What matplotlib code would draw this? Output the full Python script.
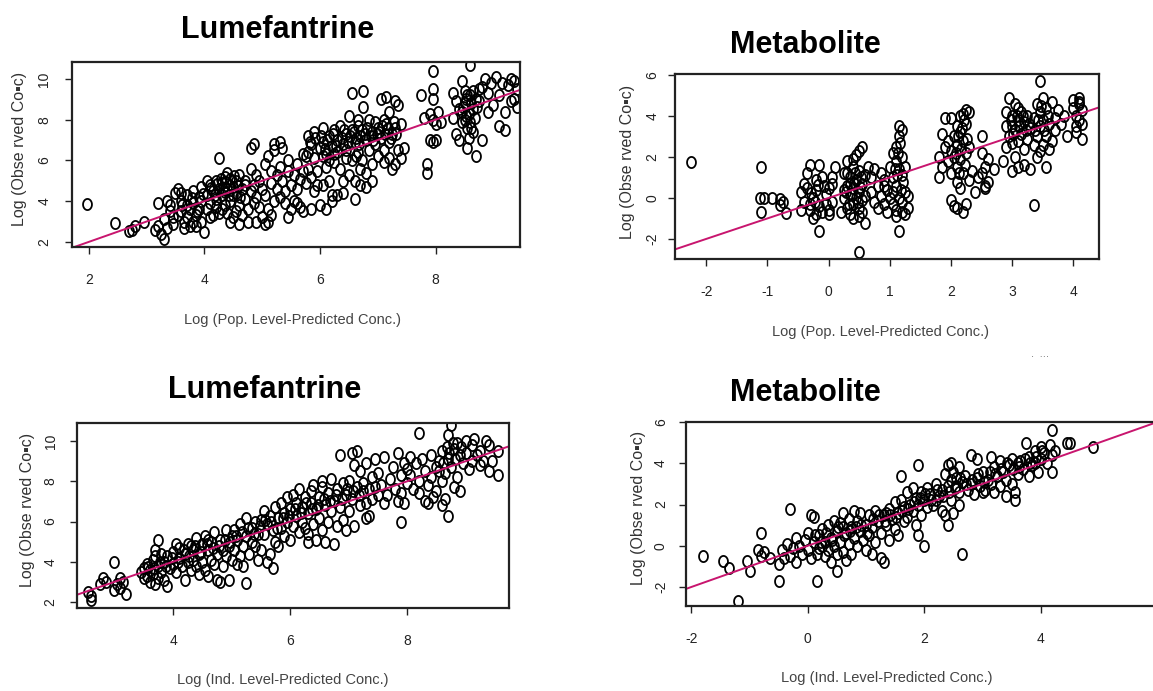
import numpy as np
import matplotlib
matplotlib.use("Agg")
import matplotlib.pyplot as plt
from matplotlib.path import Path

plt.rcParams['font.family'] = ['Liberation Sans', 'DejaVu Sans']

lume_pop = [
    (1.97, 3.85), (2.45, 2.95), (2.7, 2.55), (2.75, 2.6), (2.8, 2.8), (2.95, 3.0),
    (3.15, 2.6), (3.2, 2.8), (3.2, 3.9), (3.25, 2.4),
    (3.3, 2.15), (3.35, 2.7), (3.3, 3.1), (3.35, 4.0), (3.4, 3.5), (3.45, 3.2), (3.5, 4.4), (3.45, 2.9), (3.4, 3.8),
    (3.55, 4.6), (3.6, 4.0), (3.6, 3.5), (3.65, 3.0), (3.65, 2.7), (3.7, 3.8), (3.7, 4.3), (3.55, 3.3), (3.75, 2.8),
    (3.75, 3.6), (3.6, 4.4), (3.7, 3.2),
    (3.8, 4.5), (3.8, 3.9), (3.85, 3.3), (3.85, 2.8), (3.9, 4.2), (3.9, 3.6), (3.95, 4.7), (3.95, 3.0), (4.0, 2.5),
    (3.95, 4.0), (3.8, 3.0),
    (4.05, 4.3), (4.05, 3.6), (4.1, 4.8), (4.1, 3.9), (4.15, 4.5), (4.15, 3.3), (4.2, 5.0), (4.2, 4.1), (4.25, 6.1),
    (4.2, 3.7), (4.25, 4.6), (4.05, 5.0), (4.1, 3.2), (4.25, 3.4),
    (4.3, 4.9), (4.3, 4.3), (4.35, 5.2), (4.35, 3.8), (4.4, 4.6), (4.4, 3.4), (4.45, 5.1), (4.45, 4.0), (4.5, 4.7),
    (4.5, 3.2), (4.3, 3.6), (4.4, 5.4), (4.5, 4.3), (4.45, 3.0),
    (4.55, 5.0), (4.55, 4.4), (4.6, 3.8), (4.6, 5.3), (4.65, 4.6), (4.65, 3.3), (4.7, 5.0), (4.7, 4.1), (4.75, 3.6),
    (4.75, 3.0), (4.6, 2.9), (4.7, 4.8), (4.55, 3.5),
    (4.8, 6.6), (4.85, 6.8), (4.8, 5.6), (4.85, 4.8), (4.9, 5.3), (4.9, 4.2), (4.95, 3.7), (4.95, 5.0), (5.0, 3.2),
    (4.8, 4.5), (4.9, 3.0), (5.0, 4.6), (4.85, 3.9),
    (5.05, 5.8), (5.05, 4.3), (5.1, 6.2), (5.1, 3.6), (5.15, 5.5), (5.15, 4.9), (5.2, 6.8), (5.2, 6.5), (5.25, 5.3),
    (5.1, 3.0), (5.2, 4.0), (5.05, 2.9), (5.25, 4.6), (5.15, 3.3),
    (5.3, 6.9), (5.35, 6.6), (5.3, 5.7), (5.35, 5.0), (5.4, 4.5), (5.4, 3.9), (5.45, 5.5), (5.45, 3.2), (5.5, 4.8),
    (5.5, 3.6), (5.3, 4.2), (5.45, 6.0),
    (5.55, 5.3), (5.55, 4.0), (5.6, 5.8), (5.6, 4.6), (5.65, 5.1), (5.65, 3.7), (5.7, 5.5), (5.7, 3.5), (5.75, 4.9),
    (5.6, 3.9), (5.75, 6.2), (5.7, 6.3),
    (5.8, 7.2), (5.85, 6.8), (5.8, 5.6), (5.85, 5.2), (5.9, 7.4), (5.9, 6.1), (5.95, 5.5), (5.95, 4.8), (6.0, 6.6),
    (6.0, 3.8), (5.85, 3.6), (5.9, 4.5), (5.8, 6.4),
    (6.05, 7.6), (6.05, 6.9), (6.1, 6.3), (6.1, 5.7), (6.15, 7.2), (6.15, 5.0), (6.2, 6.7), (6.2, 4.3), (6.25, 7.5),
    (6.25, 5.9), (6.2, 4.0), (6.1, 3.6), (6.05, 4.8), (6.15, 6.0),
    (6.3, 7.0), (6.3, 6.4), (6.35, 7.7), (6.35, 5.6), (6.4, 6.8), (6.4, 4.4), (6.45, 7.3), (6.45, 6.1), (6.5, 8.2),
    (6.3, 4.3), (6.5, 5.3), (6.4, 5.0),
    (6.55, 9.3), (6.55, 7.5), (6.6, 6.9), (6.6, 5.0), (6.65, 8.0), (6.65, 6.4), (6.7, 7.2), (6.7, 4.8), (6.75, 9.4),
    (6.75, 8.6), (6.6, 4.1), (6.7, 5.6), (6.55, 6.0), (6.65, 7.7),
    (6.8, 7.0), (6.8, 5.4), (6.85, 8.0), (6.85, 6.5), (6.9, 7.4), (6.9, 5.0), (6.95, 6.8), (6.95, 7.9), (7.0, 6.2),
    (7.0, 7.6), (6.8, 4.7), (6.9, 5.8),
    (7.05, 9.0), (7.05, 7.1), (7.1, 6.5), (7.1, 5.9), (7.15, 9.1), (7.15, 7.8), (7.2, 8.4), (7.2, 6.1), (7.25, 7.3),
    (7.25, 5.6), (7.1, 8.0), (7.2, 6.9),
    (7.3, 8.9), (7.3, 7.6), (7.35, 8.7), (7.35, 6.5), (7.4, 6.1), (7.4, 7.8), (7.3, 5.8), (7.45, 6.6),
    (7.75, 9.2), (7.8, 8.1), (7.95, 10.4), (7.95, 9.5), (7.95, 9.0), (7.9, 8.3), (7.95, 8.0), (8.0, 7.8), (7.9, 7.0),
    (7.95, 6.9), (8.0, 7.0), (7.85, 5.8), (7.85, 5.4),
    (8.05, 8.4), (8.1, 7.9), (8.3, 9.3), (8.3, 8.1), (8.35, 7.3), (8.35, 8.9), (8.4, 7.0), (8.4, 8.5),
    (8.45, 9.9), (8.5, 9.4), (8.5, 8.8), (8.5, 8.0), (8.55, 7.6), (8.55, 6.6), (8.6, 9.2), (8.6, 10.7), (8.65, 8.5),
    (8.65, 7.4), (8.7, 9.0), (8.45, 7.9), (8.6, 7.9), (8.7, 6.2),
    (8.75, 8.9), (8.8, 9.6), (8.8, 7.0), (8.85, 10.0), (8.9, 9.3), (8.9, 8.4), (8.95, 9.8), (9.0, 8.7), (8.75, 9.5),
    (9.05, 10.1), (9.1, 9.2), (9.1, 7.7), (9.15, 9.8), (9.2, 7.5), (9.2, 8.4), (9.25, 9.7), (9.3, 8.9), (9.35, 9.9),
    (9.35, 9.0), (9.4, 8.6), (9.4, 9.5), (9.3, 10.0),
    # denser cores
    (4.12, 4.65), (4.18, 4.3), (4.28, 5.1), (4.32, 4.6), (4.38, 4.95), (4.42, 4.3), (4.48, 5.0), (4.52, 5.25),
    (4.22, 4.85), (4.35, 4.45), (4.58, 4.75), (4.62, 4.2), (3.62, 3.8), (3.78, 4.15), (3.88, 3.5), (3.98, 4.35),
    (5.82, 6.9), (5.92, 7.1), (6.02, 7.2), (6.08, 6.55), (6.12, 7.0), (6.22, 7.3), (6.28, 6.7), (6.38, 7.1),
    (6.42, 7.5), (6.48, 6.9), (6.52, 7.2), (6.58, 7.4), (6.62, 7.1), (6.68, 6.8), (6.72, 7.5), (6.78, 7.3),
    (6.82, 7.6), (6.88, 7.2), (6.92, 7.0), (6.98, 7.3), (7.02, 7.4), (7.08, 7.7), (7.12, 7.3), (7.18, 7.6),
    (7.22, 7.1), (7.28, 7.9), (7.32, 7.3), (6.62, 6.2), (6.72, 6.0), (6.45, 6.5), (6.25, 6.3), (6.05, 6.2),
    (8.48, 8.6), (8.52, 9.0), (8.58, 8.3), (8.62, 8.8), (8.68, 8.1), (8.72, 8.6), (8.55, 9.2), (8.65, 9.4),
    (8.52, 8.2), (8.62, 7.6), (8.45, 8.4), (8.58, 7.1),
]

meta_pop = [
    (-2.25, 1.75), (-1.1, 1.5), (-1.12, 0.0), (-1.05, 0.0), (-0.92, 0.0), (-0.8, -0.05), (-0.75, -0.2), (-1.1, -0.7),
    (-0.7, -0.75), (-0.8, -0.35),
    (-0.45, 0.3), (-0.4, -0.2), (-0.4, 0.7), (-0.35, 1.2), (-0.3, 1.6), (-0.3, -0.6), (-0.25, 0.0), (-0.25, -1.0),
    (-0.2, 0.9), (-0.2, 0.4), (-0.15, 1.6), (-0.15, -0.4), (-0.1, 1.0), (-0.1, -0.7), (-0.15, -1.6), (-0.05, 0.2),
    (-0.05, -0.3), (0.0, 0.5), (0.0, -0.6), (0.05, 1.0), (0.05, -0.2), (0.1, 1.5), (0.0, -0.8), (-0.35, 0.5),
    (-0.3, -0.3), (0.05, 0.7), (-0.2, -0.8), (-0.45, -0.6), (0.2, -0.7),
    (0.25, 0.0), (0.25, 1.2), (0.3, -0.5), (0.3, 0.6), (0.3, 1.8), (0.35, -0.8), (0.35, 0.2), (0.35, 1.0), (0.4, -0.3),
    (0.4, 0.5), (0.4, 1.5), (0.4, -1.0), (0.45, 0.0), (0.45, 0.9), (0.45, 2.1), (0.5, -0.5), (0.5, 0.3), (0.5, 1.3),
    (0.5, 2.3), (0.55, -0.1), (0.55, 0.7), (0.55, 2.5), (0.55, -0.7), (0.6, -1.2), (0.6, 0.1), (0.6, 1.1),
    (0.5, -2.65), (0.3, 1.2), (0.35, 0.7), (0.5, -0.9), (0.4, 1.9), (0.25, 0.4),
    (0.65, 1.5), (0.7, 1.0), (0.7, 0.3), (0.75, 1.4), (0.8, 0.6), (0.8, -0.5), (0.85, 1.2), (0.85, 0.1), (0.9, 0.9),
    (0.9, -0.3), (0.95, 0.4), (0.95, -0.7), (1.0, 0.0), (0.75, -0.2), (0.9, 0.6),
    (1.05, 1.0), (1.05, 0.3), (1.05, -0.3), (1.1, 1.8), (1.1, 2.5), (1.1, 0.6), (1.1, -0.6), (1.15, 3.0), (1.15, 3.5),
    (1.15, 1.4), (1.15, 0.0), (1.15, -1.6), (1.2, 3.3), (1.2, 2.0), (1.2, 1.1), (1.2, -0.2), (1.25, 1.5), (1.25, 0.3),
    (1.25, -0.8), (1.3, 0.1), (1.3, -0.5), (1.05, 2.2), (1.1, -0.9), (1.2, -0.7), (1.0, 1.5),
    (1.8, 1.0), (1.8, 2.0), (1.85, 1.5), (1.85, 3.1), (1.9, 2.5), (1.9, 3.9), (1.95, 1.8), (2.0, 2.3), (2.0, 1.2),
    (2.0, -0.1), (2.05, 3.0), (2.05, 2.0), (2.05, -0.4), (2.1, 3.5), (2.1, 2.6), (2.1, 1.5), (2.1, 0.8), (2.15, 4.0),
    (2.15, 3.2), (2.15, 1.9), (2.15, 0.5), (2.2, 4.1), (2.2, 2.8), (2.2, 1.2), (2.2, -0.7), (2.25, 4.3), (2.25, 3.6),
    (2.25, 2.2), (2.25, -0.3), (2.3, 4.2), (2.3, 0.9), (2.3, 2.5), (2.35, 1.3), (2.1, -0.5), (2.0, 3.9), (1.95, 2.8),
    (2.4, 0.3), (2.45, 1.0), (2.5, 3.0), (2.5, 2.2), (2.55, 1.5), (2.55, 0.6), (2.6, 1.9), (2.6, 0.8), (2.5, 1.2),
    (2.7, 1.4), (2.55, 0.5),
    (2.85, 1.8), (2.9, 4.2), (2.9, 3.5), (2.9, 2.5), (2.95, 4.9), (2.95, 3.0), (3.0, 4.0), (3.0, 2.7), (3.0, 1.3),
    (3.05, 4.6), (3.05, 3.3), (3.05, 2.0), (3.1, 3.8), (3.1, 2.8), (3.1, 1.5), (3.15, 4.2), (3.15, 3.1), (3.2, 3.7),
    (3.2, 2.4), (3.2, 1.6), (3.0, 3.5), (3.1, 4.4),
    (3.25, 2.9), (3.25, 4.0), (3.3, 3.4), (3.3, 1.4), (3.35, 2.6), (3.35, -0.35), (3.4, 4.6), (3.4, 3.0), (3.4, 2.0),
    (3.45, 5.7), (3.45, 4.2), (3.45, 3.5), (3.5, 4.9), (3.5, 3.8), (3.5, 2.6), (3.55, 4.4), (3.55, 3.0), (3.55, 1.5),
    (3.6, 3.6), (3.6, 2.4), (3.45, 2.3), (3.35, 3.9),
    (3.65, 4.7), (3.7, 3.9), (3.7, 3.3), (3.75, 4.3), (3.8, 3.6), (3.85, 4.0), (3.9, 3.0), (3.65, 2.8),
    (4.0, 4.8), (4.0, 4.4), (4.05, 4.0), (4.05, 3.5), (4.1, 4.9), (4.1, 4.6), (4.1, 3.8), (4.15, 4.3), (4.15, 3.6),
    (4.15, 2.9), (4.05, 3.2), (4.1, 4.7),
    # denser cores
    (0.38, 0.15), (0.42, 0.75), (0.48, -0.2), (0.52, 0.55), (0.33, -0.3), (0.28, 0.3), (0.43, 1.2), (0.53, 1.0),
    (-0.28, 0.25), (-0.18, 0.65), (-0.22, -0.2), (-0.08, 0.6), (1.12, 1.1), (1.18, 0.4), (1.13, 2.2), (1.17, 2.7),
    (1.08, 1.4), (1.22, 0.8), (2.12, 3.0), (2.18, 3.4), (2.22, 3.8), (2.17, 2.4), (2.08, 2.2), (2.27, 2.9),
    (2.13, 1.2), (2.23, 1.6), (3.02, 3.1), (3.12, 3.5), (3.08, 4.0), (3.18, 4.0), (3.28, 3.6), (3.38, 3.3),
    (3.42, 3.8), (3.48, 4.5), (3.52, 3.3), (3.58, 4.0), (2.98, 3.8), (3.22, 3.3),
]

lume_ind = [
    (2.55, 2.5), (2.6, 2.3), (2.6, 2.1), (2.75, 2.9), (2.8, 3.2), (2.85, 3.0), (3.0, 2.6), (3.0, 4.0), (3.05, 2.9),
    (3.1, 3.2), (3.1, 2.7), (3.2, 2.4), (3.15, 3.0),
    (3.45, 3.5), (3.5, 3.2), (3.5, 3.7), (3.55, 3.9), (3.55, 3.3), (3.6, 3.0), (3.6, 3.6), (3.65, 4.1), (3.65, 3.4),
    (3.7, 4.6), (3.7, 2.9), (3.75, 5.1), (3.75, 3.8), (3.75, 3.2), (3.8, 4.4), (3.8, 3.5), (3.85, 4.0), (3.85, 3.1),
    (3.9, 4.3), (3.9, 2.8), (3.95, 3.7), (3.7, 4.3),
    (4.0, 4.5), (4.0, 3.9), (4.05, 3.5), (4.1, 4.2), (4.1, 4.7), (4.15, 3.8), (4.2, 3.1), (4.2, 4.4), (4.25, 4.9),
    (4.25, 4.0), (4.3, 3.6), (4.35, 4.6), (4.35, 4.1), (4.4, 5.2), (4.4, 3.8), (4.45, 4.4), (4.45, 3.4), (4.5, 4.9),
    (4.5, 4.0), (4.05, 4.9), (4.3, 4.8),
    (4.55, 5.3), (4.55, 3.6), (4.6, 4.6), (4.6, 3.3), (4.65, 5.0), (4.65, 4.1), (4.7, 3.9), (4.7, 5.5), (4.75, 3.1),
    (4.75, 4.4), (4.8, 5.1), (4.8, 3.0), (4.85, 3.8), (4.9, 5.6), (4.9, 4.3), (4.95, 4.8), (4.95, 3.1), (5.0, 5.3),
    (5.0, 4.1), (4.85, 4.6), (4.6, 5.1),
    (5.05, 4.6), (5.05, 5.6), (5.1, 3.9), (5.1, 5.1), (5.15, 4.3), (5.15, 5.9), (5.2, 4.8), (5.2, 3.8), (5.25, 6.2),
    (5.25, 2.95), (5.25, 5.3), (5.3, 4.4), (5.35, 5.7), (5.35, 5.0), (5.4, 6.0), (5.4, 4.8), (5.45, 5.4), (5.5, 6.1),
    (5.5, 4.6), (5.45, 4.1),
    (5.55, 6.5), (5.55, 5.4), (5.6, 4.0), (5.6, 5.9), (5.65, 6.3), (5.65, 4.4), (5.7, 3.7), (5.7, 5.6), (5.75, 6.7),
    (5.75, 5.0), (5.8, 6.2), (5.8, 4.8), (5.85, 6.9), (5.85, 5.7), (5.9, 6.4), (5.9, 5.3), (5.95, 7.2), (5.95, 6.0),
    (6.0, 6.6), (6.0, 5.1),
    (6.05, 7.3), (6.05, 5.8), (6.1, 6.3), (6.1, 6.9), (6.15, 7.6), (6.15, 5.5), (6.2, 6.7), (6.2, 6.0), (6.25, 7.2),
    (6.3, 6.4), (6.3, 5.4), (6.35, 7.5), (6.35, 6.9), (6.4, 5.9), (6.4, 7.8), (6.45, 6.6), (6.45, 5.1), (6.5, 7.2),
    (6.5, 6.2), (6.3, 5.0), (6.25, 5.7),
    (6.55, 7.7), (6.55, 5.6), (6.6, 6.8), (6.6, 5.0), (6.65, 7.4), (6.65, 6.0), (6.7, 8.1), (6.7, 6.5), (6.75, 4.9),
    (6.75, 7.0), (6.8, 7.6), (6.8, 5.8), (6.85, 9.3), (6.85, 6.7), (6.9, 7.9), (6.9, 6.1), (6.95, 7.3), (6.95, 5.6),
    (7.0, 8.0), (7.0, 6.5), (6.55, 8.0),
    (7.05, 9.4), (7.05, 7.1), (7.1, 8.8), (7.1, 5.8), (7.15, 9.5), (7.15, 7.7), (7.2, 8.5), (7.2, 6.8), (7.25, 7.5),
    (7.25, 7.9), (7.3, 8.9), (7.3, 6.9), (7.35, 6.3), (7.35, 7.6), (7.4, 8.2), (7.4, 7.1), (7.45, 9.1), (7.45, 7.7),
    (7.5, 8.4), (7.5, 7.3), (7.3, 6.2), (7.55, 7.8), (7.6, 6.9), (7.65, 7.3), (7.7, 8.1),
    (7.6, 9.2), (7.75, 8.7), (7.8, 7.6), (7.85, 9.4), (7.9, 8.3), (7.9, 7.4), (7.9, 6.0), (7.95, 8.9), (8.0, 7.9),
    (7.85, 7.0), (7.95, 6.9), (8.0, 8.6),
    (8.05, 9.2), (8.05, 8.3), (8.1, 7.6), (8.15, 8.9), (8.2, 8.0), (8.2, 7.4), (8.25, 9.1), (8.3, 7.0), (8.3, 8.5),
    (8.35, 7.8), (8.4, 9.3), (8.4, 8.2), (8.45, 7.2), (8.5, 8.7), (8.5, 7.5), (8.2, 10.4), (8.35, 6.9),
    (8.55, 9.0), (8.6, 8.0), (8.6, 9.5), (8.65, 7.1), (8.65, 8.4), (8.7, 10.3), (8.7, 9.1), (8.7, 6.3), (8.75, 8.7),
    (8.75, 10.8), (8.8, 9.6), (8.8, 7.7), (8.85, 9.9), (8.85, 8.2), (8.9, 9.3), (8.9, 7.5), (8.95, 8.9), (9.0, 10.0),
    (9.0, 9.4), (8.6, 6.8),
    (9.05, 8.6), (9.1, 9.8), (9.1, 9.0), (9.15, 10.1), (9.2, 9.3), (9.25, 8.8), (9.3, 9.0), (9.35, 10.0), (9.4, 9.8),
    (9.4, 8.5), (9.45, 9.0), (9.55, 8.3), (9.55, 9.5), (9.25, 9.5),
    # denser core along the band
    (3.58, 3.75), (3.68, 3.7), (3.78, 4.0), (3.88, 3.8), (3.98, 4.2), (4.08, 4.0), (4.18, 4.6), (4.28, 4.3),
    (4.38, 4.8), (4.48, 4.5), (4.58, 4.9), (4.68, 4.7), (4.78, 4.8), (4.88, 5.1), (4.98, 5.0), (5.08, 5.3),
    (5.18, 5.5), (5.28, 5.7), (5.38, 5.4), (5.48, 5.8), (5.58, 6.1), (5.68, 6.0), (5.78, 5.7), (5.88, 6.2),
    (5.98, 6.3), (6.08, 6.6), (6.18, 6.4), (6.28, 6.9), (6.38, 6.6), (6.48, 6.8), (6.58, 7.1), (6.68, 7.0),
    (6.78, 7.3), (6.88, 7.1), (6.98, 7.6), (7.08, 7.5), (7.18, 7.3), (8.62, 8.9), (8.72, 9.4), (8.82, 9.1),
    (8.92, 9.7), (8.78, 9.9), (8.68, 9.7), (8.55, 8.5),
]

meta_ind = [
    (-1.8, -0.5), (-1.45, -0.75), (-1.35, -1.1), (-1.2, -2.7), (-1.05, -0.75), (-1.0, -1.2), (-0.8, 0.6),
    (-0.85, -0.2), (-0.8, -0.5), (-0.75, -0.3), (-0.65, -0.6), (-0.5, -1.7), (-0.5, -0.9), (-0.45, -0.2),
    (-0.4, -0.6), (-0.35, 0.1), (-0.3, 1.8), (-0.3, -0.5), (-0.25, -0.1), (-0.2, 0.4), (-0.2, -0.8), (-0.15, 0.0),
    (-0.1, -0.4), (-0.05, 0.3), (0.0, -0.2), (0.0, 0.6), (0.05, 1.5), (0.05, -0.6), (0.1, 1.4), (0.1, 0.2),
    (0.15, -0.4), (0.15, -1.7), (0.2, 0.5), (0.2, -0.1), (0.25, 0.8), (0.3, -0.5), (0.3, 0.2), (0.35, 1.0),
    (0.35, -0.2), (0.4, 0.4), (0.4, -0.8), (0.45, 1.2), (0.45, 0.0), (0.5, -1.2), (0.5, 0.7), (0.5, -0.4),
    (0.55, 1.1), (0.55, 0.2), (0.6, 1.6), (0.6, -0.3), (0.65, 0.6), (0.65, -0.7), (0.7, 1.3), (0.7, 0.1),
    (0.75, 0.9), (0.75, -0.4), (0.8, 0.4), (0.85, 1.2), (0.85, 0.0), (0.9, 0.7), (0.9, 1.6), (0.95, 0.3),
    (1.0, 1.0), (1.0, -0.2), (1.05, 1.5), (1.05, 0.5), (1.1, 0.9), (1.1, -0.4), (1.15, 1.7), (1.15, 0.2),
    (1.2, 1.2), (1.25, 0.6), (1.25, -0.6), (1.3, 1.5), (1.3, -0.8), (1.35, 1.0), (1.4, 0.3), (1.4, 1.8),
    (1.45, 1.3), (1.5, 0.8), (1.5, 2.1), (1.55, 0.5), (1.55, 1.6), (1.6, 3.4), (1.6, 2.2), (1.65, 1.2),
    (1.65, 1.9), (1.7, 2.6), (1.7, 1.4), (1.75, 2.0), (1.8, 1.7), (1.8, 2.8), (1.85, 2.3), (1.85, 1.0),
    (1.9, 3.9), (1.9, 2.0), (1.9, 0.5), (1.95, 2.6), (1.95, 1.5), (2.0, 2.2), (2.0, 0.0), (2.05, 2.8),
    (2.05, 1.9), (2.1, 2.5), (2.15, 2.0), (2.2, 3.0), (2.25, 2.4), (2.3, 2.7), (2.3, 1.7), (2.35, 3.5),
    (2.35, 1.5), (2.4, 3.9), (2.4, 2.9), (2.4, 1.0), (2.45, 4.0), (2.45, 3.2), (2.45, 2.2), (2.5, 3.6),
    (2.5, 1.6), (2.55, 2.9), (2.55, 3.3), (2.6, 2.6), (2.65, 3.1), (2.65, -0.4), (2.7, 3.4), (2.75, 2.7),
    (2.8, 4.4), (2.8, 3.0), (2.85, 2.5), (2.9, 4.2), (2.9, 3.3), (2.95, 2.9), (3.0, 3.6), (3.05, 2.7),
    (3.1, 3.2), (3.15, 4.3), (3.15, 3.0), (3.2, 3.8), (3.2, 2.6), (3.25, 3.4), (3.3, 4.1), (3.3, 2.9),
    (3.35, 3.6), (3.4, 3.2), (3.4, 2.4), (3.45, 3.9), (3.5, 3.0), (3.5, 4.2), (3.55, 2.2), (3.55, 2.6),
    (3.6, 3.5), (3.65, 4.1), (3.7, 3.7), (3.75, 5.0), (3.8, 3.4), (3.8, 4.3), (3.85, 3.9), (3.9, 4.6),
    (3.95, 3.6), (4.0, 4.8), (4.0, 4.2), (4.05, 4.5), (4.1, 4.0), (4.15, 4.9), (4.2, 5.6), (4.2, 4.4),
    (4.2, 3.6), (4.25, 4.6), (4.45, 5.0), (4.5, 5.0), (4.9, 4.8), (3.9, 4.0), (3.6, 4.0), (3.0, 2.6),
    (2.6, 2.0), (2.6, 3.8), (2.2, 2.2), (1.35, 1.6), (0.8, 1.7), (0.25, 0.0), (0.6, 0.9),
    # denser core along the band
    (0.12, 0.5), (0.22, 0.2), (0.32, 0.6), (0.42, 0.3), (0.52, 0.9), (0.62, 0.5), (0.72, 0.7), (0.82, 0.9),
    (0.92, 1.0), (1.02, 0.6), (1.12, 1.3), (1.22, 1.5), (1.32, 1.2), (1.42, 1.5), (1.52, 1.4), (1.62, 1.7),
    (1.72, 1.8), (1.82, 2.1), (1.92, 2.3), (2.02, 2.5), (2.12, 2.2), (2.22, 2.7), (2.32, 2.4), (2.42, 2.6),
    (2.52, 2.8), (2.62, 3.3), (2.72, 3.0), (2.82, 3.2), (2.92, 3.5), (3.02, 3.1), (3.12, 3.6), (3.22, 3.5),
    (3.32, 3.7), (3.42, 4.0), (3.52, 3.7), (3.62, 3.8), (3.72, 4.2), (3.82, 4.0), (3.92, 4.3), (4.02, 4.6),
]

titles = ['Lumefantrine', 'Metabolite', 'Lumefantrine', 'Metabolite']
xlabels = ['Log (Pop. Level-Predicted Conc.)', 'Log (Pop. Level-Predicted Conc.)',
           'Log (Ind. Level-Predicted Conc.)', 'Log (Ind. Level-Predicted Conc.)']
ylabel = 'Log (Obse rved Co\u25aac)'
xticks = [[2, 4, 6, 8], [-2, -1, 0, 1, 2, 3, 4], [4, 6, 8], [-2, 0, 2, 4]]
yticks = [[2, 4, 6, 8, 10], [-2, 0, 2, 4, 6], [2, 4, 6, 8, 10], [-2, 0, 2, 4, 6]]

W, H = 1153, 691
fig = plt.figure(figsize=(W / 100, H / 100), dpi=100)

def px_axes(x0, y0, x1, y1):
    return fig.add_axes([x0 / W, 1 - y1 / H, (x1 - x0) / W, (y1 - y0) / H])

# pixel boxes of the four panels (left, top, right, bottom)
boxes = [(72, 62, 520, 247), (675, 74, 1099, 259), (77, 423, 509, 608), (686, 422, 1162, 606)]
xlims = [(1.71, 9.46), (-2.51, 4.42), (2.36, 9.74), (-2.09, 6.08)]
ylims = [(1.75, 10.83), (-2.98, 6.05), (1.70, 10.9), (-2.92, 5.95)]
ypads = [10, 6, 9, 8]
title_pos = [(278, 30), (805, 45), (265, 390), (805, 393)]
xlab_pos = [(293, 320), (880, 332), (283, 680), (887, 678)]
ylab_pos = [(20, 149), (628, 162), (28, 510), (638, 508)]

t = np.linspace(0, 2 * np.pi, 60)
ring = Path(np.column_stack([0.8 * np.cos(t), np.sin(t)]), closed=True)

datasets = [lume_pop, meta_pop, lume_ind, meta_ind]
for i in range(4):
    ax = px_axes(*boxes[i])
    pts = np.array(datasets[i])
    ax.plot(pts[:, 0], pts[:, 1], linestyle='none', marker=ring, ms=8,
            mfc='none', mec='black', mew=1.3)
    lo, hi = xlims[i]
    ax.plot([lo - 1, hi + 1], [lo - 1, hi + 1], color='#c8156e', lw=1.4)
    ax.set_xlim(*xlims[i])
    ax.set_ylim(*ylims[i])
    ax.set_xticks(xticks[i])
    ax.set_yticks(yticks[i])
    ax.set_xticklabels([str(v) for v in xticks[i]])
    ax.set_yticklabels([str(v) for v in yticks[i]], rotation=90, va='center')
    ax.tick_params(axis='x', direction='out', length=5, width=1, pad=14, labelsize=10, colors='#222222')
    ax.tick_params(axis='y', direction='out', length=5, width=1, pad=ypads[i], labelsize=10, colors='#222222')
    for s in ax.spines.values():
        s.set_linewidth(1.6)
        s.set_color('#222222')

    fig.text(title_pos[i][0] / W, 1 - title_pos[i][1] / H, titles[i], ha='center', va='center',
             fontsize=22, fontweight='bold', color='black')
    fig.text(xlab_pos[i][0] / W, 1 - xlab_pos[i][1] / H, xlabels[i], ha='center', va='center',
             fontsize=10.5, color='#444444')
    fig.text(ylab_pos[i][0] / W, 1 - ylab_pos[i][1] / H, ylabel, ha='center', va='center',
             rotation=90, fontsize=11.5, color='#333333')

fig.text(1040 / W, 1 - 357 / H, '\u00b7  \u00b7\u00b7\u00b7', ha='center', va='center', fontsize=7, color='#555555')

fig.savefig('out.png', dpi=100)
